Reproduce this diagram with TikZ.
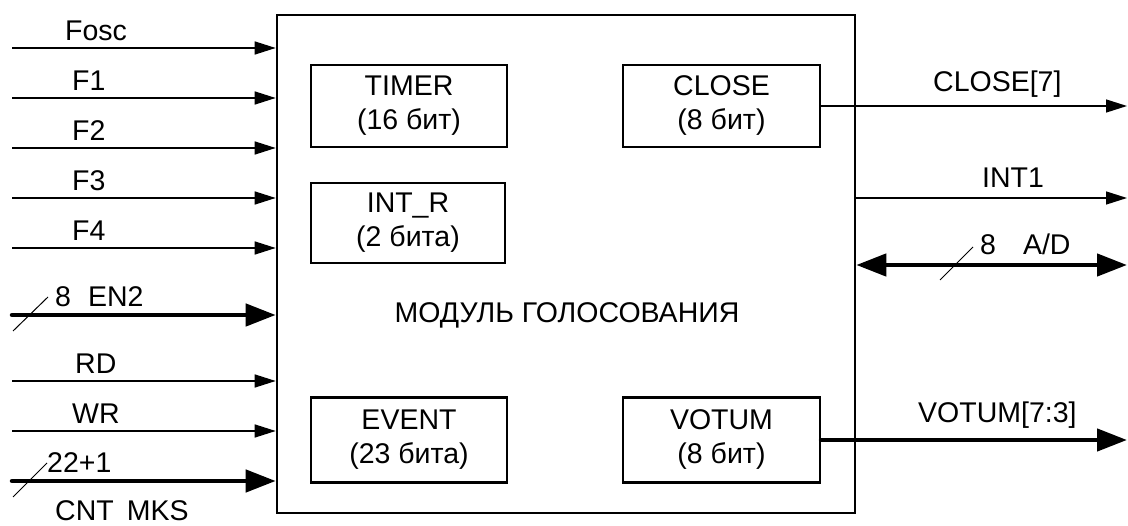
\documentclass[tikz,border=0pt]{standalone}
\usepackage{fontspec}
\setmainfont{Liberation Sans}
\usepackage{tikz}
\usetikzlibrary{arrows.meta,calc}

\begin{document}
\begin{tikzpicture}[
  x=1pt, y=-1pt,
  every node/.style={font=\fontsize{28.5}{34}\selectfont, inner sep=0pt},
  module/.style={draw, line width=2.6pt, minimum width=578pt, minimum height=498pt},
  reg/.style={draw, line width=2.2pt, minimum width=196pt, minimum height=82pt, align=center},
  sig/.style={line width=1.4pt, -{Triangle[length=21pt,width=13pt]}},
  bus/.style={line width=4.5pt, line cap=round, -{Triangle[length=30pt,width=22pt]}},
  bibus/.style={line width=4.5pt, {Triangle[length=30pt,width=22pt]}-{Triangle[length=30pt,width=22pt]}},
  tick/.style={line width=1pt},
  lbl/.style={anchor=base west}
]
\useasboundingbox (0,0) rectangle (1128,526);

% main block
\node[module] (main) at (566,264) {};
\node[anchor=base] (title) at (567,323) {МОДУЛЬ ГОЛОСОВАНИЯ};

% registers
\node[reg] (timer) at (409,106) {TIMER\\(16 бит)};
\node[reg, minimum width=194pt, minimum height=80pt] (intr) at (408,223) {INT\_R\\(2 бита)};
\node[reg, minimum width=197pt] (close) at (721.5,106) {CLOSE\\(8 бит)};
\node[reg, minimum height=85pt] (event) at (409,440) {EVENT\\(23 бита)};
\node[reg, minimum width=197pt, minimum height=85pt] (votum) at (721.5,440) {VOTUM\\(8 бит)};

% inputs
\foreach \n/\y/\t/\lx in {fosc/48/Fosc/65, f1/98/F1/72, f2/148/F2/72, f3/198/F3/72,
                          f4/248/F4/72, rd/381/RD/75, wr/431/WR/72} {
  \coordinate (\n) at (12,\y);
  \draw[sig] (\n) -- (\n -| main.west);
  \node[lbl] (\n-lbl) at (\lx,\y-7) {\t};
}

\coordinate (en2) at (12,315);
\draw[bus] (en2) -- (en2 -| main.west);
\draw[tick] (13,331) -- (48,297);
\node[lbl] (en2-lbl) at (55,307) {8\hspace{17pt}EN2};

\coordinate (cnt) at (12,481);
\draw[bus] (cnt) -- (cnt -| main.west);
\draw[tick] (13,497) -- (47,463);
\node[lbl] (cnt-w) at (47,473) {22+1};
\node[lbl] (cnt-lbl) at (55,521) {CNT\hspace{13pt}MKS};

% outputs
\coordinate (rend) at (1127,0);
\draw[sig] (close.east) -- (close.east -| rend);
\node[lbl] (close-lbl) at (933,92) {CLOSE[7]};

\coordinate (int1) at (1127,198);
\draw[sig] (int1 -| main.east) -- (int1);
\node[lbl] (int1-lbl) at (982,188) {INT1};

\coordinate (ad) at (1127,265);
\draw[bibus] (ad -| main.east) -- (ad);
\draw[tick] (940,280) -- (973,247);
\node[lbl] (ad-lbl) at (980,255) {8\hspace{27pt}A/D};

\draw[bus] (votum.east) -- (votum.east -| rend);
\node[lbl] (votum-lbl) at (918,423) {VOTUM[7:3]};
\end{tikzpicture}
\end{document}
